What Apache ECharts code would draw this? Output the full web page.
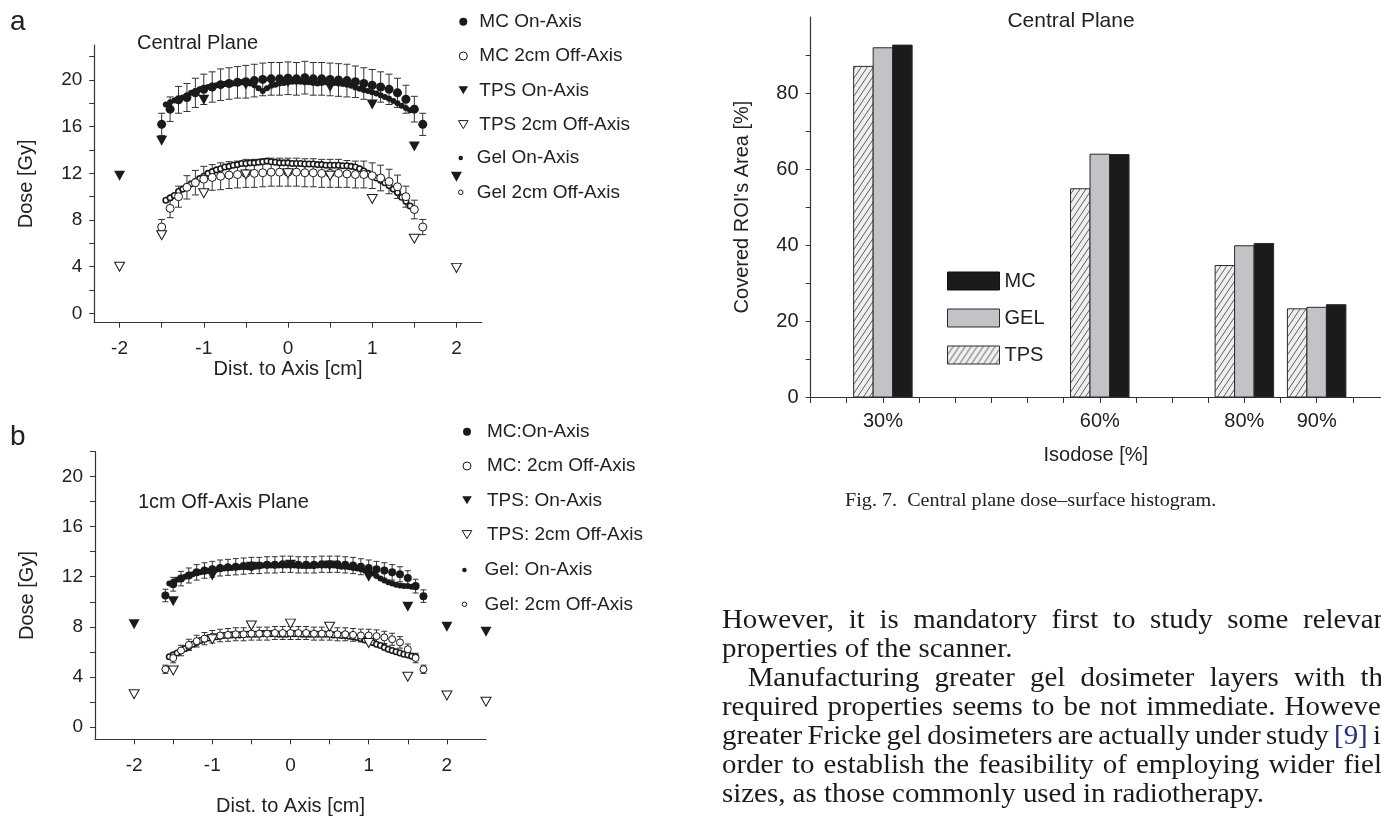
<!DOCTYPE html>
<html lang="en">
<head>
<meta charset="UTF-8" />
<title>Dose profiles and dose-surface histogram</title>
<script src="https://cdn.jsdelivr.net/npm/echarts@6/dist/echarts.min.js"></script>
<style type="text/css">
html,body{margin:0;padding:0;background:#fff;overflow:hidden;width:1381px;height:818px;}
#main{position:absolute;left:0;top:0;width:1381px;height:818px;}
.caption{position:absolute;left:845px;top:489px;font-family:"Liberation Serif",serif;font-size:18px;line-height:22px;color:#222;white-space:nowrap;transform:scaleX(1.12);transform-origin:left top;}
.para{position:absolute;left:722px;top:605px;font-family:"Liberation Serif",serif;font-size:27px;line-height:29px;color:#1a1a1a;transform:scaleX(1.07);transform-origin:left top;}
.para div{white-space:nowrap;height:29px;}
.para span{display:inline-block;white-space:nowrap;}
.ref{color:#1f2f8f;}
</style>
</head>
<body>
<div id="main"></div>
<div class="caption">Fig. 7.&nbsp; Central plane dose–surface histogram.</div>
<div class="para">
  <div><span class="j">However, it is mandatory first to study some relevant</span></div>
  <div><span>properties of the scanner.</span></div>
  <div style="padding-left:24px"><span class="j">Manufacturing greater gel dosimeter layers with the</span></div>
  <div><span class="j">required properties seems to be not immediate. However,</span></div>
  <div><span class="j">greater Fricke gel dosimeters are actually under study <span class="ref">[9]</span> in</span></div>
  <div><span class="j">order to establish the feasibility of employing wider field</span></div>
  <div><span>sizes, as those commonly used in radiotherapy.</span></div>
</div>
<script type="text/javascript">
// ---- panel a : central plane profiles ----
var xMcA = [-1.5,-1.4,-1.3,-1.2,-1.1,-1.0,-0.9,-0.8,-0.7,-0.6,-0.5,-0.4,-0.3,-0.2,-0.1,0,0.1,0.2,0.3,0.4,0.5,0.6,0.7,0.8,0.9,1.0,1.1,1.2,1.3,1.4,1.5,1.6];
var mcOnA = [16.2,17.5,18.3,18.5,18.9,19.2,19.4,19.6,19.7,19.8,19.85,19.95,20.05,20.1,20.1,20.15,20.1,20.2,20.1,20.1,20.05,20.0,19.95,19.85,19.7,19.55,19.4,19.2,18.9,18.35,17.5,16.2];
var mcOnErrA = [0.95,1.05,1.15,1.2,1.25,1.3,1.3,1.35,1.35,1.35,1.4,1.4,1.4,1.4,1.4,1.4,1.4,1.4,1.4,1.4,1.4,1.4,1.4,1.35,1.35,1.35,1.3,1.3,1.25,1.2,1.1,0.95];
var mcOffA = [7.4,9.0,10.0,10.8,11.2,11.5,11.65,11.75,11.85,11.9,12.0,12.0,12.05,12.1,12.1,12.1,12.1,12.05,12.05,12.0,12.0,12.0,11.95,11.9,11.9,11.8,11.6,11.3,10.85,10.0,8.9,7.4];
var mcOffErrA = [0.65,0.8,0.9,1.0,1.05,1.1,1.1,1.15,1.15,1.15,1.2,1.2,1.2,1.2,1.2,1.2,1.2,1.2,1.2,1.2,1.2,1.2,1.15,1.15,1.15,1.1,1.1,1.05,1.0,0.9,0.8,0.65];
var xTpsA = [-2,-1.5,-1,-0.5,0,0.5,1,1.5,2];
var tpsOnA = [11.8,14.8,18.3,19.6,19.8,19.4,17.9,14.3,11.7];
var tpsOffA = [4.0,6.7,10.3,11.9,12.0,11.8,9.8,6.4,3.9];
var xGelA = [-1.45,-1.4,-1.35,-1.3,-1.25,-1.2,-1.15,-1.1,-1.05,-1.0,-0.95,-0.9,-0.85,-0.8,-0.75,-0.7,-0.65,-0.6,-0.55,-0.5,-0.45,-0.4,-0.35,-0.3,-0.25,-0.2,-0.15,-0.1,-0.05,0,0.05,0.1,0.15,0.2,0.25,0.3,0.35,0.4,0.45,0.5,0.55,0.6,0.65,0.7,0.75,0.8,0.85,0.9,0.95,1.0,1.05,1.1,1.15,1.2,1.25,1.3,1.35,1.4,1.45];
var gelOnA = [17.9,18.1,18.25,18.35,18.5,18.7,18.9,19.05,19.2,19.3,
  19.4,19.5,19.55,19.6,19.65,19.7,19.7,19.75,19.8,19.8,
  19.7,19.55,19.3,19.05,19.3,19.5,19.6,19.7,19.75,
  19.8,
  19.85,19.85,19.85,19.8,19.8,19.75,19.7,19.75,19.8,19.8,
  19.75,19.7,19.65,19.6,19.5,19.35,19.25,19.15,19.05,18.95,
  18.85,18.7,18.55,18.4,18.2,18.0,17.8,17.6,17.4];
var gelOffA = [9.7,9.9,10.1,10.45,10.65,10.9,11.1,11.3,11.55,11.75,
  12.0,12.15,12.3,12.4,12.55,12.6,12.7,12.75,12.85,12.85,
  12.9,12.9,12.95,13.0,13.05,13.0,12.95,12.9,12.9,
  12.9,
  12.85,12.85,12.85,12.8,12.8,12.8,12.75,12.75,12.7,12.7,
  12.7,12.7,12.65,12.65,12.6,12.55,12.4,12.2,12.0,11.8,
  11.6,11.4,11.2,10.95,10.65,10.35,9.95,9.6,9.2];

// ---- panel b : 1cm off-axis plane profiles ----
var xMcB = [-1.6,-1.5,-1.4,-1.3,-1.2,-1.1,-1.0,-0.9,-0.8,-0.7,-0.6,-0.5,-0.4,-0.3,-0.2,-0.1,0,0.1,0.2,0.3,0.4,0.5,0.6,0.7,0.8,0.9,1.0,1.1,1.2,1.3,1.4,1.5,1.6,1.7];
var mcOnB = [10.5,11.4,11.85,12.1,12.35,12.5,12.6,12.7,12.75,12.8,12.85,12.9,12.9,12.95,12.95,13.0,13.0,12.95,12.95,12.95,13.0,13.0,13.0,12.95,12.9,12.8,12.7,12.6,12.5,12.35,12.2,11.9,11.25,10.45];
var mcOnErrB = [0.5,0.55,0.58,0.6,0.62,0.62,0.63,0.64,0.64,0.65,0.65,0.65,0.65,0.65,0.65,0.65,0.65,0.65,0.65,0.65,0.65,0.65,0.65,0.65,0.65,0.64,0.64,0.63,0.62,0.62,0.6,0.58,0.55,0.5];
var mcOffB = [4.6,5.5,6.1,6.55,6.85,7.05,7.2,7.3,7.35,7.4,7.4,7.45,7.45,7.45,7.5,7.5,7.5,7.5,7.5,7.45,7.45,7.45,7.4,7.4,7.35,7.3,7.3,7.25,7.15,7.0,6.75,6.2,5.5,4.6];
var mcOffErrB = [0.33,0.38,0.42,0.45,0.47,0.49,0.5,0.5,0.51,0.52,0.52,0.52,0.52,0.52,0.52,0.52,0.52,0.52,0.52,0.52,0.52,0.52,0.52,0.52,0.51,0.51,0.5,0.5,0.49,0.48,0.46,0.42,0.38,0.33];
var xTpsB = [-2,-1.5,-1,-0.5,0,0.5,1,1.5,2,2.5];
var tpsOnB = [8.2,10.05,12.1,12.8,12.95,12.9,12.0,9.6,8.0,7.6];
var tpsOffB = [2.6,4.5,7.0,8.1,8.25,8.0,6.7,4.0,2.5,2.0];
var xGelB = [-1.55,-1.5,-1.45,-1.4,-1.35,-1.3,-1.25,-1.2,-1.15,-1.1,-1.05,-1.0,-0.95,-0.9,-0.85,-0.8,-0.75,-0.7,-0.65,-0.6,-0.55,-0.5,-0.45,-0.4,-0.35,-0.3,-0.25,-0.2,-0.15,-0.1,-0.05,0,0.05,0.1,0.15,0.2,0.25,0.3,0.35,0.4,0.45,0.5,0.55,0.6,0.65,0.7,0.75,0.8,0.85,0.9,0.95,1.0,1.05,1.1,1.15,1.2,1.25,1.3,1.35,1.4,1.45,1.5,1.55,1.6];
var gelOnB = [11.45,11.6,11.75,11.9,12.0,12.1,12.2,12.3,12.35,12.4,
  12.45,12.5,12.55,12.6,12.65,12.7,12.7,12.75,12.75,12.8,
  12.75,12.7,12.8,12.85,12.9,12.9,12.9,12.9,12.9,12.9,12.9,
  12.9,
  12.9,12.9,12.85,12.85,12.85,12.85,12.9,12.9,12.9,12.9,
  12.9,12.85,12.8,12.8,12.75,12.7,12.65,12.6,12.5,12.4,
  12.25,12.05,11.85,11.7,11.55,11.45,11.35,11.3,11.25,11.25,11.2,11.15];
var gelOffB = [5.6,5.75,5.9,6.1,6.25,6.4,6.6,6.75,6.9,7.0,
  7.1,7.15,7.2,7.25,7.3,7.3,7.35,7.35,7.35,7.4,
  7.4,7.4,7.4,7.4,7.45,7.45,7.45,7.45,7.4,7.4,7.4,
  7.45,
  7.45,7.45,7.4,7.4,7.4,7.4,7.4,7.4,7.4,7.4,
  7.35,7.35,7.3,7.3,7.25,7.2,7.15,7.05,6.95,6.85,
  6.75,6.6,6.5,6.35,6.2,6.1,6.0,5.9,5.8,5.75,5.65,5.6];

// ---- axis ticks and labels of the profile panels ----
var xTicks = [-2,-1.5,-1,-0.5,0,0.5,1,1.5,2];
var xLabels = [-2,-1,0,1,2];
var yTicks = [0,2,4,6,8,10,12,14,16,18,20,22];
var yLabels = [0,4,8,12,16,20];

// ---- Fig. 7 : dose-surface histogram ----
var isodose = [30,60,80,90];
var tpsArea = [87.0,54.8,34.6,23.2];
var gelArea = [91.9,63.9,39.8,23.6];
var mcArea = [92.6,63.8,40.4,24.3];
var isoTicks = [20,25,30,35,40,45,50,55,60,65,70,75,80,85,90,95];
var isoLabels = [30,60,80,90];
var areaTicks = [0,10,20,30,40,50,60,70,80,90];
var areaLabels = [0,20,40,60,80];

var sans = '"Liberation Sans", Arial, sans-serif';
var ink = '#222';
var tri = 'path://M0,0L12,0L6,10Z';

function pairs(xs, ys){ return xs.map(function(x,i){ return [x, ys[i]]; }); }
function spans(xs, ys, es){ return xs.map(function(x,i){ return [x, ys[i]-es[i], ys[i]+es[i]]; }); }

function errSeries(name, g, xs, ys, es, cap){
  return {
    name:name, type:'custom', xAxisIndex:g, yAxisIndex:g, z:1, silent:true,
    data:spans(xs, ys, es),
    renderItem:function(params, api){
      var lo = api.coord([api.value(0), api.value(1)]);
      var hi = api.coord([api.value(0), api.value(2)]);
      var st = {stroke:'#333', lineWidth:1};
      return {type:'group', children:[
        {type:'line', shape:{x1:lo[0],y1:lo[1],x2:hi[0],y2:hi[1]}, style:st},
        {type:'line', shape:{x1:lo[0]-cap,y1:lo[1],x2:lo[0]+cap,y2:lo[1]}, style:st},
        {type:'line', shape:{x1:hi[0]-cap,y1:hi[1],x2:hi[0]+cap,y2:hi[1]}, style:st}
      ]};
    }
  };
}
function dots(name, g, data, symbol, size, open, z, bw){
  return {
    name:name, type:'scatter', xAxisIndex:g, yAxisIndex:g, z:z, silent:true,
    symbol:symbol, symbolSize:size, data:data,
    itemStyle: open ? {color:'#fff', borderColor:'#1a1a1a', borderWidth:bw || 1, opacity:1}
                    : {color:'#1a1a1a', opacity:1}
  };
}
function profileSeries(g, names, xMc, mcOn, mcOnErr, mcOff, mcOffErr, xTps, tpsOn, tpsOff, xGel, gelOn, gelOff, cap, mcSize){
  return [
    errSeries('err-on-' + g, g, xMc, mcOn, mcOnErr, cap),
    errSeries('err-off-' + g, g, xMc, mcOff, mcOffErr, cap),
    dots(names[4], g, pairs(xGel, gelOn), 'circle', 6, false, 2),
    dots(names[5], g, pairs(xGel, gelOff), 'circle', 5.5, true, 2, 1.6),
    dots(names[0], g, pairs(xMc, mcOn), 'circle', mcSize, false, 3),
    dots(names[1], g, pairs(xMc, mcOff), 'circle', mcSize - 1, true, 3),
    dots(names[2], g, pairs(xTps, tpsOn), tri, [11,10], false, 4),
    dots(names[3], g, pairs(xTps, tpsOff), tri, [10,9], true, 4)
  ];
}
function legendItem(name, icon, open){
  return {name:name, icon:icon, itemStyle: open ? {color:'#fff', borderColor:'#1a1a1a', borderWidth:1} : {color:'#1a1a1a', borderWidth:0}};
}
function legendBlock(items, left, top, w, h){
  return {
    orient:'vertical', left:left, top:top, padding:0, itemGap:14.3,
    itemWidth:w, itemHeight:h, selectedMode:false,
    textStyle:{fontFamily:sans, fontSize:19, color:ink, lineHeight:20},
    data:items
  };
}
function valueX(g, min, max, nameGap){
  return {
    type:'value', gridIndex:g, min:min, max:max,
    axisLine:{onZero:false, lineStyle:{color:'#333', width:1.2}},
    axisTick:{customValues:xTicks, length:5, lineStyle:{color:'#333'}},
    axisLabel:{customValues:xLabels, margin:17, fontFamily:sans, fontSize:19, color:ink},
    splitLine:{show:false},
    name:'Dist. to Axis [cm]', nameLocation:'middle', nameGap:nameGap,
    nameTextStyle:{fontFamily:sans, fontSize:20, color:ink}
  };
}
function valueY(g, min, max){
  return {
    type:'value', gridIndex:g, min:min, max:max,
    axisLine:{onZero:false, lineStyle:{color:'#333', width:1.2}},
    axisTick:{customValues:yTicks, length:5, lineStyle:{color:'#333'}},
    axisLabel:{customValues:yLabels, margin:12, fontFamily:sans, fontSize:19, color:ink},
    splitLine:{show:false},
    name:'Dose [Gy]', nameLocation:'middle', nameGap:58,
    nameTextStyle:{fontFamily:sans, fontSize:20, color:ink}
  };
}

// hatch for the TPS bars
var hatch = document.createElement('canvas');
hatch.width = 6; hatch.height = 9;
var hc = hatch.getContext('2d');
hc.fillStyle = '#efefef'; hc.fillRect(0, 0, 6, 9);
hc.strokeStyle = '#3a3a3a'; hc.lineWidth = 0.8;
hc.beginPath();
hc.moveTo(0, 9); hc.lineTo(6, 0);
hc.moveTo(-1, 1.5); hc.lineTo(1, -1.5);
hc.moveTo(5, 10.5); hc.lineTo(7, 7.5);
hc.stroke();
var hatchFill = {image:hatch, repeat:'repeat'};

var barW = 19.5;
function barSeries(name, vals, k, fill){
  return {
    name:name, type:'custom', xAxisIndex:2, yAxisIndex:2, silent:true,
    itemStyle:{color:fill, borderColor:'#2a2a2a', borderWidth:1},
    data:pairs(isodose, vals),
    renderItem:function(params, api){
      var top = api.coord([api.value(0), api.value(1)]);
      var base = api.coord([api.value(0), 0]);
      var cx = top[0] + k * barW;
      return {type:'rect', shape:{x:cx - barW/2, y:top[1], width:barW, height:base[1]-top[1]},
        style:{fill:fill, stroke:'#2a2a2a', lineWidth:1}};
    }
  };
}

var namesA = ['MC On-Axis','MC 2cm Off-Axis','TPS On-Axis','TPS 2cm Off-Axis','Gel On-Axis','Gel 2cm Off-Axis'];
var namesB = ['MC:On-Axis','MC: 2cm Off-Axis','TPS: On-Axis','TPS: 2cm Off-Axis','Gel: On-Axis','Gel: 2cm Off-Axis'];

var chart = echarts.init(document.getElementById('main'));
chart.setOption({
  animation:false,
  backgroundColor:'#fff',
  textStyle:{fontFamily:sans},
  grid:[
    {left:94.3, top:45, width:387.4, height:277.7},
    {left:95, top:451.7, width:391, height:287.6},
    {left:810.6, top:17, right:0, height:380}
  ],
  xAxis:[
    valueX(0, -2.3, 2.3, 33),
    valueX(1, -2.5, 2.5, 57),
    {
      type:'value', gridIndex:2, min:20, max:98.9,
      axisLine:{onZero:false, lineStyle:{color:'#333', width:1.2}},
      axisTick:{customValues:isoTicks, length:6, lineStyle:{color:'#333'}},
      axisLabel:{customValues:isoLabels, margin:14, fontFamily:sans, fontSize:20, color:ink,
        formatter:function(v){ return v + '%'; }},
      splitLine:{show:false},
      name:'Isodose [%]', nameLocation:'middle', nameGap:48,
      nameTextStyle:{fontFamily:sans, fontSize:20, color:ink}
    }
  ],
  yAxis:[
    valueY(0, -0.8, 23),
    valueY(1, -1, 22),
    {
      type:'value', gridIndex:2, min:0, max:100,
      axisLine:{onZero:false, lineStyle:{color:'#333', width:1.2}},
      axisTick:{customValues:areaTicks, length:5, lineStyle:{color:'#333'}},
      axisLabel:{customValues:areaLabels, margin:12, fontFamily:sans, fontSize:20, color:ink},
      splitLine:{show:false},
      name:"Covered ROI's Area [%]", nameLocation:'middle', nameGap:58,
      nameTextStyle:{fontFamily:sans, fontSize:20, color:ink}
    }
  ],
  legend:[
    legendBlock([legendItem(namesA[0],'circle',false), legendItem(namesA[1],'circle',true),
                 legendItem(namesA[2],tri,false), legendItem(namesA[3],tri,true)], 458, 11.7, 22, 8),
    legendBlock([legendItem(namesA[4],'circle',false), legendItem(namesA[5],'circle',true)], 458, 148, 22, 4.5),
    legendBlock([legendItem(namesB[0],'circle',false), legendItem(namesB[1],'circle',true),
                 legendItem(namesB[2],tri,false), legendItem(namesB[3],tri,true)], 461.7, 421.7, 30, 8),
    legendBlock([legendItem(namesB[4],'circle',false), legendItem(namesB[5],'circle',true)], 461.7, 560, 30, 4.5),
    {
      orient:'vertical', left:947, top:271, padding:0, itemGap:17,
      itemWidth:52, itemHeight:18, selectedMode:false,
      textStyle:{fontFamily:sans, fontSize:20, color:ink},
      data:[
        {name:'MC', icon:'rect', itemStyle:{color:'#1b1b1b', borderColor:'#111', borderWidth:1}},
        {name:'GEL', icon:'rect', itemStyle:{color:'#c2c3c7', borderColor:'#2a2a2a', borderWidth:1}},
        {name:'TPS', icon:'rect', itemStyle:{color:hatchFill, borderColor:'#2a2a2a', borderWidth:1}}
      ]
    }
  ],
  graphic:[
    {type:'text', x:10, y:22, style:{text:'a', font:'28px ' + sans, fill:ink, verticalAlign:'middle'}},
    {type:'text', x:10, y:437, style:{text:'b', font:'28px ' + sans, fill:ink, verticalAlign:'middle'}},
    {type:'text', x:137, y:43, style:{text:'Central Plane', font:'20px ' + sans, fill:ink, verticalAlign:'middle'}},
    {type:'text', x:138, y:502, style:{text:'1cm Off-Axis Plane', font:'20px ' + sans, fill:ink, verticalAlign:'middle'}},
    {type:'text', x:1071, y:21, style:{text:'Central Plane', font:'21px ' + sans, fill:ink, align:'center', verticalAlign:'middle'}}
  ],
  series: profileSeries(0, namesA, xMcA, mcOnA, mcOnErrA, mcOffA, mcOffErrA, xTpsA, tpsOnA, tpsOffA, xGelA, gelOnA, gelOffA, 3.5, 9)
    .concat(profileSeries(1, namesB, xMcB, mcOnB, mcOnErrB, mcOffB, mcOffErrB, xTpsB, tpsOnB, tpsOffB, xGelB, gelOnB, gelOffB, 3, 8))
    .concat([
      barSeries('TPS', tpsArea, -1, hatchFill),
      barSeries('GEL', gelArea, 0, '#c2c3c7'),
      barSeries('MC', mcArea, 1, '#1b1b1b')
    ])
});

// justify the full lines of the paragraph to the column width
var colWidth = (1396 - 722) / 1.07;
document.querySelectorAll('.para .j').forEach(function(el){
  var indent = parseFloat(el.parentNode.style.paddingLeft) || 0;
  var gaps = (el.textContent.match(/ /g) || []).length;
  var extra = colWidth - indent - el.offsetWidth;
  if (gaps) el.style.wordSpacing = (extra / gaps) + 'px';
});
</script>
</body>
</html>
